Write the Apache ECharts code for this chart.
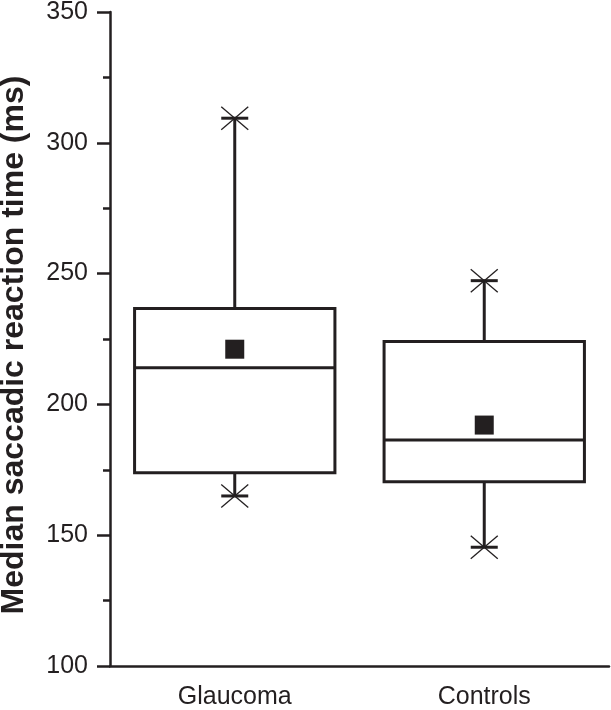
<!DOCTYPE html>
<html><head><meta charset="utf-8">
<script src="https://cdn.jsdelivr.net/npm/echarts@6/dist/echarts.min.js"></script>
<style>html,body{margin:0;padding:0;background:#fff}#c{width:611px;height:710px}</style>
</head><body><div id="c"></div>
<script>
const categories = ['Glaucoma', 'Controls'];
const whiskerMin = [165, 145.4];
const q1 = [173.9, 170.4];
const median = [214.0, 186.4];
const q3 = [236.7, 224.0];
const whiskerMax = [309.4, 247.3];
const mean = [221.1, 192.1];
const yTicks = [100, 150, 200, 250, 300, 350];

const C = '#231f20';
const FONT = 'Liberation Sans, Arial, sans-serif';
const boxData = categories.map((c, i) => [i, whiskerMin[i], q1[i], median[i], q3[i], whiskerMax[i]]);

function renderBox(params, api) {
  const i = api.value(0);
  const pMin = api.coord([i, api.value(1)]);
  const pQ1 = api.coord([i, api.value(2)]);
  const pMed = api.coord([i, api.value(3)]);
  const pQ3 = api.coord([i, api.value(4)]);
  const pMax = api.coord([i, api.value(5)]);
  const bw = api.size([1, 0])[0] * 0.803;
  const x = pMed[0];
  const half = bw / 2;
  const cap = 13.5, xs = 13.5, ys = 11.5;
  const ls = { stroke: C, lineWidth: 3, fill: null };
  const thin = { stroke: C, lineWidth: 1.3 };
  const ch = [];
  const line = (x1, y1, x2, y2, st) => ch.push({ type: 'line', shape: { x1, y1, x2, y2 }, style: st });
  line(x, pMax[1], x, pQ3[1], ls);
  line(x, pQ1[1], x, pMin[1], ls);
  line(x - cap, pMax[1], x + cap, pMax[1], ls);
  line(x - cap, pMin[1], x + cap, pMin[1], ls);
  [pMax, pMin].forEach(p => {
    line(x - xs, p[1] - ys, x + xs, p[1] + ys, thin);
    line(x - xs, p[1] + ys, x + xs, p[1] - ys, thin);
  });
  ch.push({ type: 'rect', shape: { x: x - half, y: pQ3[1], width: bw, height: pQ1[1] - pQ3[1] }, style: ls });
  line(x - half, pMed[1], x + half, pMed[1], ls);
  return { type: 'group', children: ch };
}

const chart = echarts.init(document.getElementById('c'), null, { renderer: 'canvas' });
chart.setOption({
  animation: false,
  backgroundColor: '#fff',
  grid: { left: 110, top: 12, right: 2, bottom: 44, containLabel: false, outerBoundsMode: 'none' },
  xAxis: {
    type: 'category', data: categories, boundaryGap: true,
    axisLine: { lineStyle: { color: C, width: 2.5 } },
    axisTick: { alignWithLabel: true, length: 14, lineStyle: { color: C, width: 2.5 } },
    axisLabel: { color: C, fontSize: 25, fontFamily: FONT, margin: 19 },
    splitLine: { show: false }
  },
  yAxis: {
    type: 'value', min: yTicks[0], max: yTicks[yTicks.length - 1], interval: 50,
    name: 'Median saccadic reaction time (ms)', nameLocation: 'middle', nameRotate: 90, nameGap: 80,
    nameTextStyle: { color: C, fontSize: 32, fontWeight: 'bold', fontFamily: FONT, padding: [0, 12, 0, 0] },
    axisLine: { show: true, lineStyle: { color: C, width: 2.5 } },
    axisTick: { show: true, length: 13, lineStyle: { color: C, width: 2.5 } },
    minorTick: { show: true, splitNumber: 2, length: 7, lineStyle: { color: C, width: 2.5 } },
    axisLabel: { color: C, fontSize: 25, fontFamily: FONT, margin: 22 },
    splitLine: { show: false }
  },
  series: [
    { type: 'custom', renderItem: renderBox, data: boxData, encode: { x: 0, y: [1, 2, 3, 4, 5] }, z: 2 },
    { type: 'scatter', symbol: 'rect', symbolSize: 19, itemStyle: { color: C, opacity: 1 },
      data: categories.map((c, i) => [i, mean[i]]), z: 3 }
  ]
});
</script></body></html>
